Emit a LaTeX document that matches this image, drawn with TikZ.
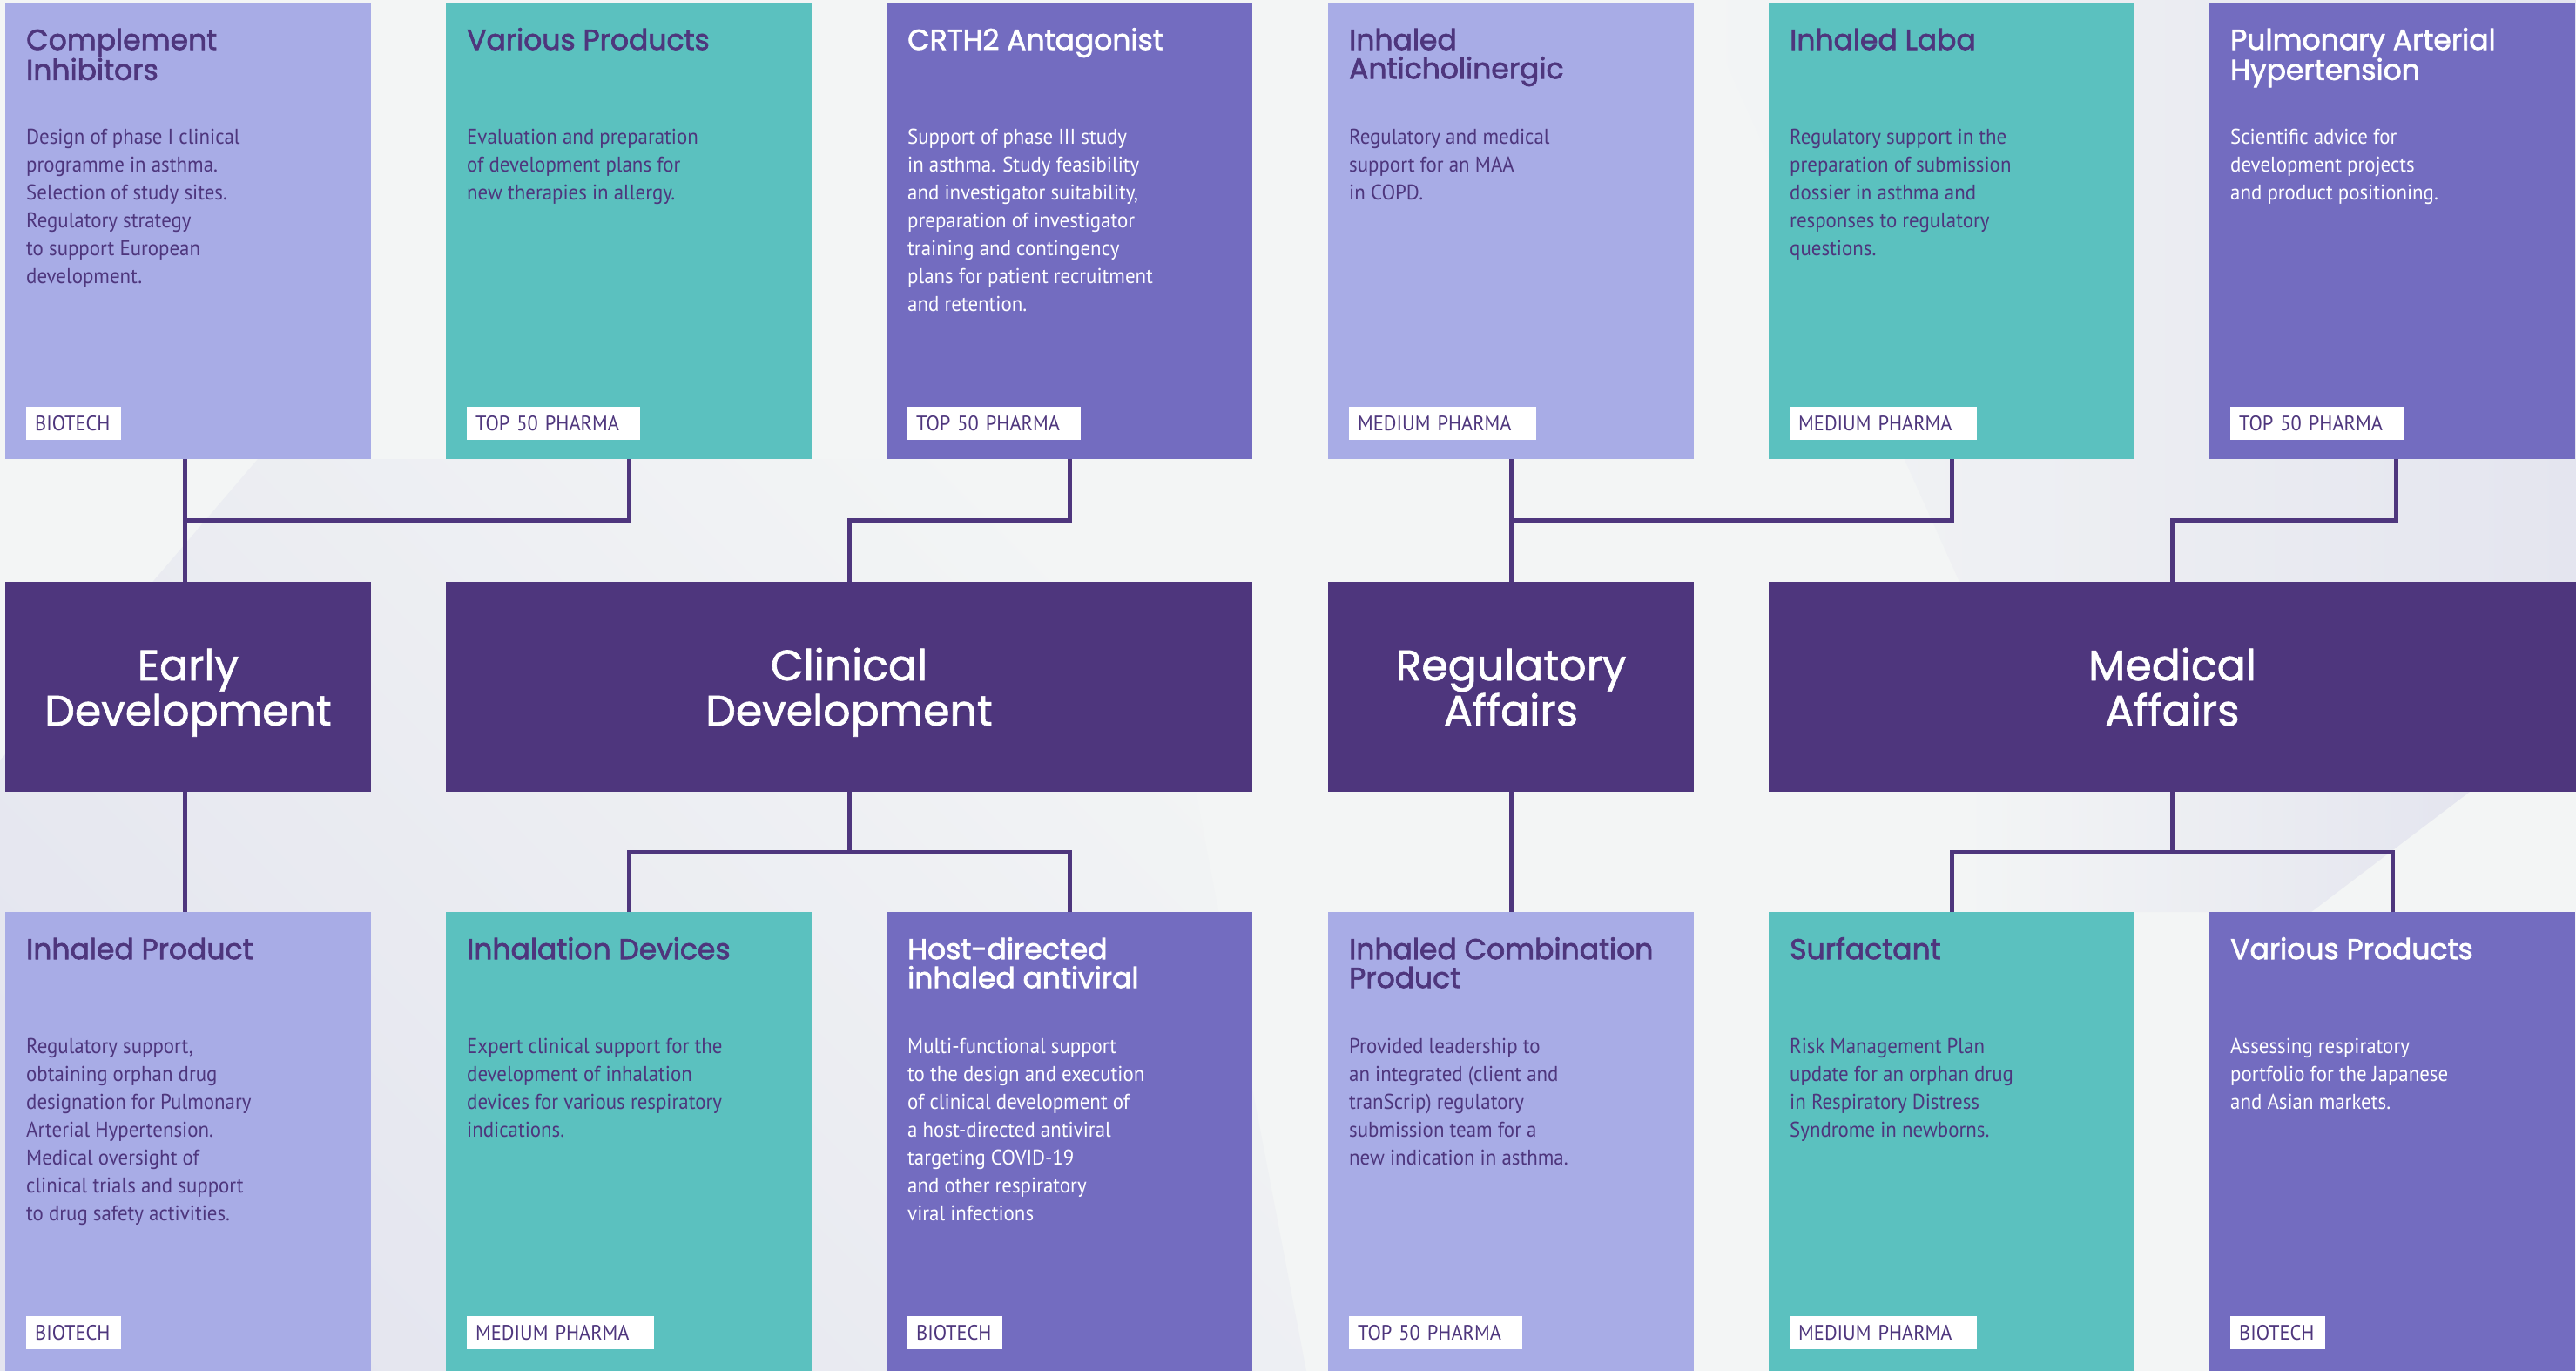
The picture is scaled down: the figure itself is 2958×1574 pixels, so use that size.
\documentclass[tikz,border=0pt]{standalone}
\usepackage{fontspec}
\newfontfamily\headfont{Poppins}[FakeBold=1.3]
\newfontfamily\ctitlefont{Poppins}[FakeBold=2.0]
\newfontfamily\bodyfont{PT Sans}[FakeStretch=0.935]
\definecolor{bgc}{HTML}{F3F5F5}
\definecolor{lav}{HTML}{E4E5EF}
\definecolor{cLight}{HTML}{A8ACE6}
\definecolor{cTeal}{HTML}{5BC1BF}
\definecolor{cMid}{HTML}{736CC0}
\definecolor{cDark}{HTML}{4E367D}
\newcommand\cardh{524pt}
\newcommand\mkcard[9]{%
  \node[card, fill=#4, minimum height=\cardh] (#1) at (#2,#3) {};
  \node[ttl, text=#5] (#1-t) at ([shift={(24,28)}]#1.north west) {\rule{0pt}{26pt}#6};
  \node[bdy, text=#5] (#1-b) at ([shift={(24,140)}]#1.north west) {\rule{0pt}{22pt}#7};
  \node[tagbox, text width=#8] (#1-l) at ([shift={(24,464)}]#1.north west) {#9};
}
\newcommand\midtxt[2]{\rule{0pt}{50pt}#1\\#2\rule[-13pt]{0pt}{13pt}}
\tikzset{
  card/.style={rectangle, draw=none, inner sep=0pt, outer sep=0pt, anchor=north west, minimum width=420pt},
  ttl/.style={anchor=north west, inner sep=0pt, align=left, font=\ctitlefont\fontsize{33}{33}\selectfont},
  bdy/.style={anchor=north west, inner sep=0pt, align=left, font=\bodyfont\fontsize{24.5}{32}\selectfont},
  tagbox/.style={anchor=north west, fill=white, inner xsep=10pt, inner ysep=0pt, minimum height=38pt, text height=17pt, text depth=0pt, align=left, text=cDark, font=\bodyfont\fontsize{24}{28}\selectfont},
  midbox/.style={rectangle, fill=cDark, inner sep=0pt, outer sep=0pt, anchor=north west, minimum height=241pt, text=white, align=center, font=\headfont\fontsize{49}{52}\selectfont},
  conn/.style={draw=cDark, line width=5pt},
}
\begin{document}
\begin{tikzpicture}[x=1pt, y=-1pt]
\useasboundingbox (0,0) rectangle (2958,1574);
% background
\fill[bgc] (0,0) rectangle (2958,1574);
\shade[top color=bgc, bottom color=lav, shading angle=-45] (296,527) -- (1300,527) -- (1500,1574) -- (0,1574) -- (0,873) -- cycle;
\shade[left color=bgc, right color=lav] (1950,0) -- (2958,0) -- (2958,668) -- (2250,668) -- cycle;
\shade[left color=bgc, right color=lav] (2250,909) -- (2836,909) -- (2654,1047) -- (2250,1047) -- cycle;
\coordinate (hy1) at (0,597);
\coordinate (hy2) at (0,978);

% top row
\renewcommand\cardh{524pt}
\mkcard{t1}{6}{3}{cLight}{cDark}{Complement\\Inhibitors}{Design of phase I clinical\\programme in asthma.\\Selection of study sites.\\Regulatory strategy\\to support European\\development.}{89pt}{BIOTECH}
\mkcard{t2}{512}{3}{cTeal}{cDark}{Various Products}{Evaluation and preparation\\of development plans for\\new therapies in allergy.}{179pt}{TOP 50 PHARMA}
\mkcard{t3}{1018}{3}{cMid}{white}{CRTH2 Antagonist}{Support of phase III study\\in asthma. Study feasibility\\and investigator suitability,\\preparation of investigator\\training and contingency\\plans for patient recruitment\\and retention.}{179pt}{TOP 50 PHARMA}
\mkcard{t4}{1525}{3}{cLight}{cDark}{Inhaled\\Anticholinergic}{Regulatory and medical\\support for an MAA\\in COPD.}{195pt}{MEDIUM PHARMA}
\mkcard{t5}{2031}{3}{cTeal}{cDark}{Inhaled Laba}{Regulatory support in the\\preparation of submission\\dossier in asthma and\\responses to regulatory\\questions.}{195pt}{MEDIUM PHARMA}
\mkcard{t6}{2537}{3}{cMid}{white}{Pulmonary Arterial\\Hypertension}{Scientific advice for\\development projects\\and product positioning.}{179pt}{TOP 50 PHARMA}

% bottom row
\renewcommand\cardh{530pt}
\mkcard{b1}{6}{1047}{cLight}{cDark}{Inhaled Product}{Regulatory support,\\obtaining orphan drug\\designation for Pulmonary\\Arterial Hypertension.\\Medical oversight of\\clinical trials and support\\to drug safety activities.}{89pt}{BIOTECH}
\mkcard{b2}{512}{1047}{cTeal}{cDark}{Inhalation Devices}{Expert clinical support for the\\development of inhalation\\devices for various respiratory\\indications.}{195pt}{MEDIUM PHARMA}
\mkcard{b3}{1018}{1047}{cMid}{white}{Host-directed\\inhaled antiviral}{Multi-functional support\\to the design and execution\\of clinical development of\\a host-directed antiviral\\targeting COVID-19\\and other respiratory\\viral infections}{89pt}{BIOTECH}
\mkcard{b4}{1525}{1047}{cLight}{cDark}{Inhaled Combination\\Product}{Provided leadership to\\an integrated (client and\\tranScrip) regulatory\\submission team for a\\new indication in asthma.}{179pt}{TOP 50 PHARMA}
\mkcard{b5}{2031}{1047}{cTeal}{cDark}{Surfactant}{Risk Management Plan\\update for an orphan drug\\in Respiratory Distress\\Syndrome in newborns.}{195pt}{MEDIUM PHARMA}
\mkcard{b6}{2537}{1047}{cMid}{white}{Various Products}{Assessing respiratory\\portfolio for the Japanese\\and Asian markets.}{89pt}{BIOTECH}

% middle boxes
\node[midbox, minimum width=420pt] (m1) at (6,668) {\midtxt{Early}{Development}};
\node[midbox, minimum width=926pt] (m2) at (512,668) {\midtxt{Clinical}{Development}};
\node[midbox, minimum width=420pt] (m3) at (1525,668) {\midtxt{Regulatory}{Affairs}};
\node[midbox, minimum width=927pt] (m4) at (2031,668) {\midtxt{Medical}{Affairs}};

% connectors
\draw[conn] ([xshift=-4pt]t1.south) -- ([xshift=-4pt]m1.north);
\draw[conn] (t2.south) |- ([xshift=-4pt]t1.south |- hy1);
\draw[conn] (t3.south) |- (m2.north |- hy1) -- (m2.north);
\draw[conn] (t4.south) -- (m3.north);
\draw[conn] (t5.south) |- (t4.south |- hy1);
\draw[conn] ([xshift=4pt]t6.south) |- (m4.north |- hy1) -- (m4.north);
\draw[conn] ([xshift=-4pt]m1.south) -- ([xshift=-4pt]b1.north);
\draw[conn] (m2.south) -- (m2.south |- hy2);
\draw[conn] (b2.north) |- (b3.north |- hy2) -- (b3.north);
\draw[conn] (m3.south) -- (b4.north);
\draw[conn] (m4.south) -- (m4.south |- hy2);
\draw[conn] (b5.north) |- (b6.north |- hy2) -- (b6.north);
\end{tikzpicture}
\end{document}
